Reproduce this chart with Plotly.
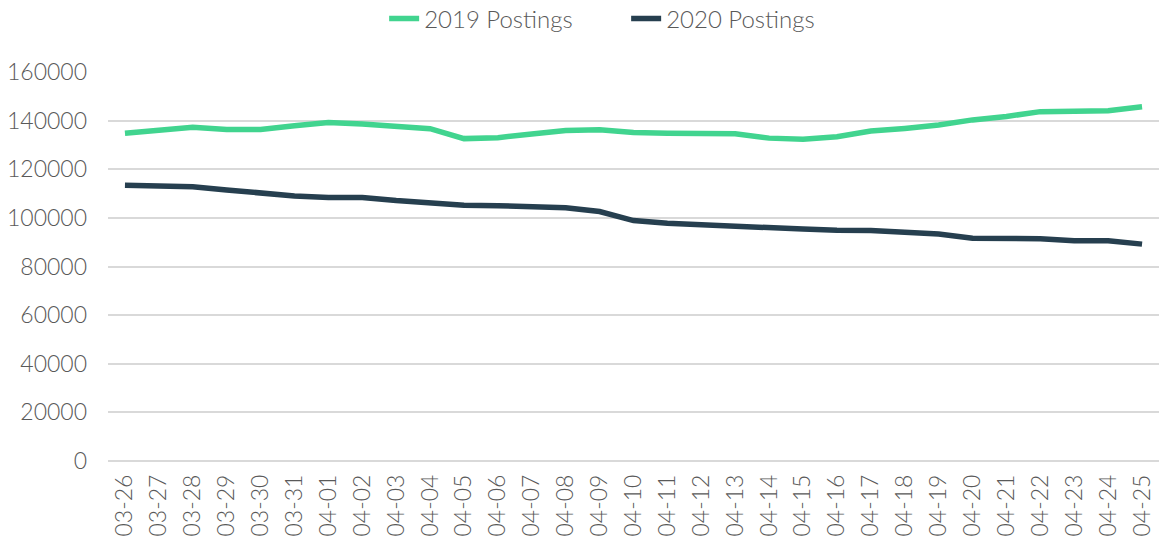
import plotly.graph_objects as go

dates = ["03-26","03-27","03-28","03-29","03-30","03-31","04-01","04-02","04-03","04-04",
         "04-05","04-06","04-07","04-08","04-09","04-10","04-11","04-12","04-13","04-14",
         "04-15","04-16","04-17","04-18","04-19","04-20","04-21","04-22","04-23","04-24","04-25"]
postings_2019 = [134800,136200,137300,136400,136400,137900,139200,138600,137600,136700,
                 132600,133000,134500,135900,136200,135100,134800,134600,134600,132800,
                 132300,133400,135700,136800,138200,140300,141700,143700,144100,144100,145700]
postings_2020 = [113400,113000,112800,111500,110100,109000,108400,108400,107100,106300,
                 105200,105000,104400,104200,102600,98900,97800,97100,96800,96100,
                 95400,94900,94800,94100,93400,91600,91400,91400,90600,90600,89200]

font_family = "'Lato Light', Lato, 'Open Sans', sans-serif"
gray = "#595959"

fig = go.Figure()
fig.add_trace(go.Scatter(x=dates, y=postings_2019, mode="lines", name="2019 Postings",
                         line=dict(color="#41D48F", width=5.5)))
fig.add_trace(go.Scatter(x=dates, y=postings_2020, mode="lines", name="2020 Postings",
                         line=dict(color="#263F4F", width=5.5)))

fig.update_layout(
    width=1159, height=542,
    margin=dict(l=108, r=0, t=72, b=81),
    plot_bgcolor="white", paper_bgcolor="white",
    font=dict(family=font_family, size=23, color=gray),
    legend=dict(orientation="h", x=0.493, xanchor="center", y=0.965, yanchor="middle",
                yref="container", font=dict(size=24, color=gray),
                traceorder="normal", entrywidth=197),
    showlegend=True,
)
fig.update_xaxes(type="category", range=[-0.5, 30.5], tickangle=-90, showgrid=False,
                 showline=False, ticks="", tickfont=dict(size=23, color=gray),
                 ticklabelstandoff=8, automargin=False)
fig.update_yaxes(range=[0, 160000], dtick=20000, showgrid=True, gridcolor="#D9D9D9",
                 gridwidth=1.5, zeroline=True, zerolinecolor="#D9D9D9", zerolinewidth=1.5,
                 tickfont=dict(size=23, color=gray), ticks="", ticklabelstandoff=20,
                 tickformat="d", automargin=False)

fig.write_html("out.html", config={"displayModeBar": False},
               post_script="document.body.style.margin='0';document.body.style.overflow='hidden';")
